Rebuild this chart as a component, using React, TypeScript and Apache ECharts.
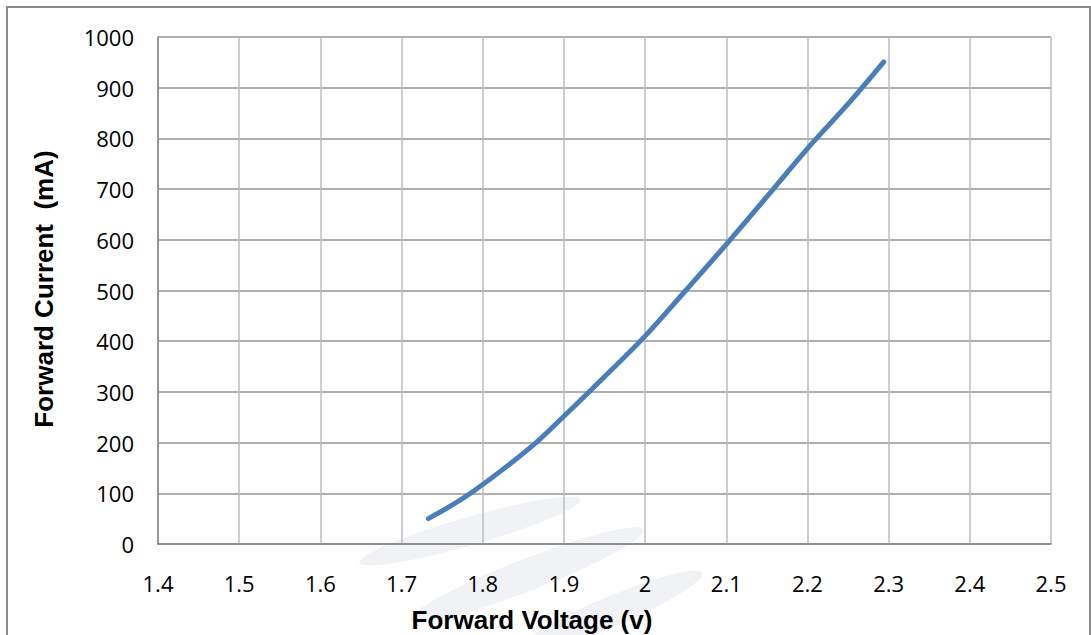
import React, { useEffect, useRef } from "react";
import * as echarts from "echarts";

const voltage = [1.733, 1.785, 1.86, 1.9, 1.95, 2.0, 2.05, 2.1, 2.15, 2.2, 2.25, 2.294];
const current = [50, 100, 192, 252, 330, 410, 500, 591, 685, 780, 868, 951];
const xTitle = "Forward Voltage (v)";
const yTitle = "Forward Current  (mA)";

export default function App() {
  const ref = useRef<HTMLDivElement>(null);
  useEffect(() => {
    if (!ref.current) return;
    const chart = echarts.init(ref.current, undefined, { renderer: "svg" });
    const font = "'Open Sans', sans-serif";
    const titleFont = "'Liberation Sans', Arial, sans-serif";
    chart.setOption({
      animation: false,
      backgroundColor: "#ffffff",
      grid: { left: 158, top: 37, right: 40, bottom: 91, containLabel: false },
      xAxis: {
        type: "value",
        min: 1.4,
        max: 2.5,
        interval: 0.1,
        axisLine: { show: true, lineStyle: { color: "#868686", width: 1.5 } },
        axisTick: { show: false },
        axisLabel: { color: "#000", fontSize: 22, fontFamily: font, margin: 28 },
        splitLine: { show: true, lineStyle: { color: "#bdbdbd", width: 1.5 } },
      },
      yAxis: {
        type: "value",
        min: 0,
        max: 1000,
        interval: 100,
        axisLine: { show: true, lineStyle: { color: "#868686", width: 1.5 } },
        axisTick: { show: false },
        axisLabel: {
          color: "#000", fontSize: 22, fontFamily: font, margin: 24,
          formatter: (v: number) => String(v),
        },
        splitLine: { show: true, lineStyle: { color: "#959595", width: 1.5 } },
      },
      graphic: [
        {
          type: "rect",
          shape: { x: 7, y: 7, width: 1083, height: 660 },
          style: { fill: "none", stroke: "#8a8a8a", lineWidth: 2 },
          z: 100,
          silent: true,
        },
        {
          type: "ellipse",
          x: 470, y: 531, rotation: 0.28,
          shape: { cx: 0, cy: 0, rx: 115, ry: 14 },
          style: { fill: "#f0f2f5" }, z: -10, silent: true,
        },
        {
          type: "ellipse",
          x: 527, y: 575, rotation: 0.37,
          shape: { cx: 0, cy: 0, rx: 125, ry: 16 },
          style: { fill: "#f0f2f5" }, z: -10, silent: true,
        },
        {
          type: "ellipse",
          x: 610, y: 612, rotation: 0.4,
          shape: { cx: 0, cy: 0, rx: 100, ry: 15 },
          style: { fill: "#f0f2f5" }, z: -10, silent: true,
        },
        {
          type: "text",
          x: 532, y: 620,
          style: {
            text: xTitle, fill: "#000", fontSize: 26, fontWeight: "bold",
            fontFamily: titleFont, align: "center", verticalAlign: "middle",
          },
          z: 50,
        },
        {
          type: "text",
          x: 44, y: 289, rotation: Math.PI / 2,
          style: {
            text: yTitle, fill: "#000", fontSize: 26, fontWeight: "bold",
            fontFamily: titleFont, align: "center", verticalAlign: "middle",
          },
          z: 50,
        },
      ],
      series: [
        {
          type: "line",
          data: voltage.map((v, i) => [v, current[i]]),
          smooth: 0.35,
          showSymbol: false,
          symbol: "none",
          lineStyle: { color: "#4a7ebb", width: 5, cap: "round", join: "round" },
          z: 5,
        },
      ],
    });
    return () => chart.dispose();
  }, []);
  return (
    <div
      ref={ref}
      style={{ position: "fixed", left: 0, top: 0, width: 1091, height: 635 }}
    />
  );
}
